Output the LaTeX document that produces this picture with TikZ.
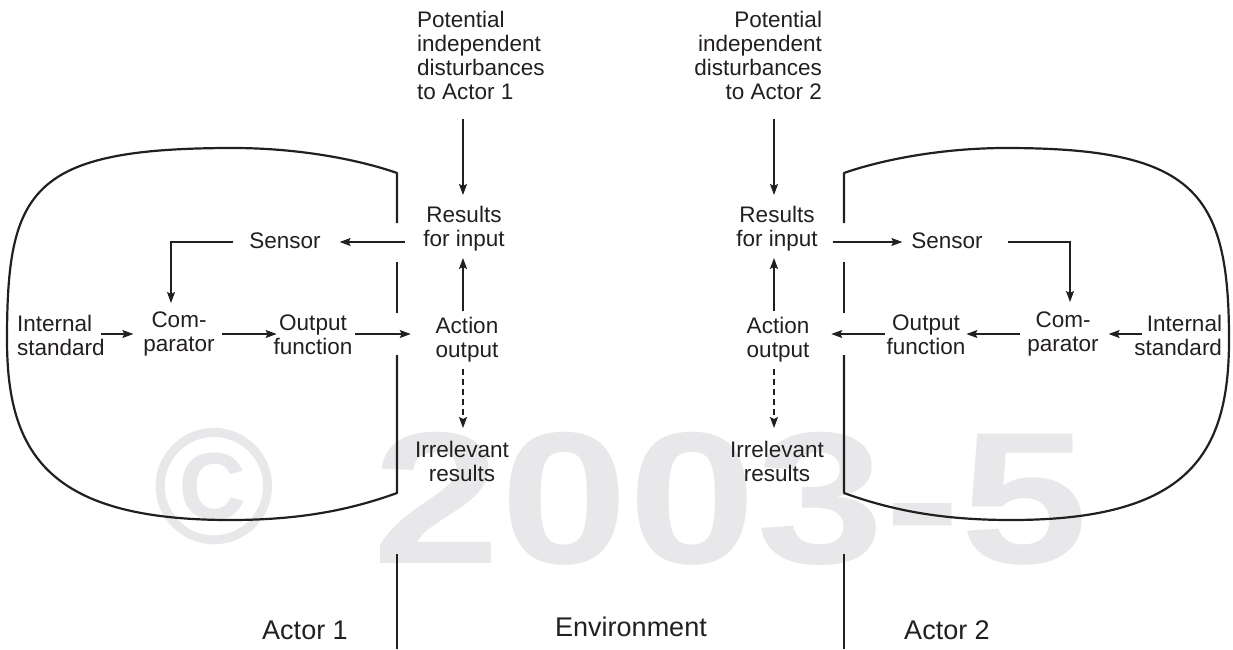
\documentclass[tikz,border=0pt]{standalone}
\usepackage{fontspec}
\setmainfont{Liberation Sans}
\usetikzlibrary{arrows.meta,calc}
\definecolor{ink}{RGB}{35,31,32}
\definecolor{wmgray}{RGB}{232,232,234}
\begin{document}
\begin{tikzpicture}[x=1pt,y=-1pt,
  lbl/.style={inner sep=0pt,outer sep=0pt,text=ink,font=\fontsize{22.5}{24}\selectfont},
  biglbl/.style={inner sep=0pt,outer sep=0pt,text=ink,font=\fontsize{27}{30}\selectfont},
  wmark/.style={inner sep=0pt,outer sep=0pt,text=wmgray},
  arr/.style={draw=ink,line width=1.1pt,-{Stealth[length=11pt,width=8pt,inset=2pt]}},
  dsh/.style={arr,dash pattern=on 6pt off 4pt},
  wall/.style={draw=ink,line width=2.2pt,line join=round}]
\useasboundingbox (0,0) rectangle (1233,649);
% watermark
\node[wmark,anchor=base,font=\fontsize{165}{165}\selectfont\bfseries] (wmc) at (214,543) {©};
\node[wmark,anchor=base west,xscale=1.225,font=\fontsize{188}{188}\selectfont\bfseries] (wmd) at (372,563) {2003-5};
% walls of actor 1
\draw[wall] (397,223) -- (397,173)
  .. controls (360,160) and (300,148) .. (233,148)
  .. controls (30,148) and (7,190) .. (7,340)
  .. controls (7,455) and (50,520) .. (230,520)
  .. controls (300,520) and (350,510) .. (397,493) -- (397,355);
\draw[wall] (397,262) -- (397,313);
\draw[wall] (397,554) -- (397,649);
% walls of actor 2
\draw[wall] (844,223) -- (844,173)
  .. controls (881,160) and (941,148) .. (1006,148)
  .. controls (1195,148) and (1229,192) .. (1229,340)
  .. controls (1229,455) and (1188,520) .. (1011,520)
  .. controls (941,520) and (891,510) .. (844,493) -- (844,355);
\draw[wall] (844,262) -- (844,313);
\draw[wall] (844,554) -- (844,649);
% helper coordinates
\coordinate (colL) at (463,0);
\coordinate (colR) at (774,0);
\coordinate (rowS) at (0,242);
\coordinate (rowO) at (0,334);
% actor 1 labels
\node[lbl,anchor=north west,align=left] (dist1) at (417,11) {Potential\\independent\\disturbances\\to Actor 1};
\node[lbl,anchor=north,align=center] (res1) at (464,206) {Results\\for input};
\node[lbl,anchor=north,align=center] (act1) at (467,317) {Action\\output};
\node[lbl,anchor=north,align=center] (irr1) at (462,441) {Irrelevant\\results};
\node[lbl,anchor=north] (sen1) at (285,233) {Sensor};
\node[lbl,anchor=north,align=center] (com1) at (179,312) {Com-\\parator};
\node[lbl,anchor=north west,align=left] (int1) at (17,315) {Internal\\standard};
\node[lbl,anchor=north,align=center] (out1) at (313,315) {Output\\function};
% actor 2 labels
\node[lbl,anchor=north east,align=right] (dist2) at (822,11) {Potential\\independent\\disturbances\\to Actor 2};
\node[lbl,anchor=north,align=center] (res2) at (777,206) {Results\\for input};
\node[lbl,anchor=north,align=center] (act2) at (778,317) {Action\\output};
\node[lbl,anchor=north,align=center] (irr2) at (777,441) {Irrelevant\\results};
\node[lbl,anchor=north] (sen2) at (947,233) {Sensor};
\node[lbl,anchor=north,align=center] (com2) at (1063,312) {Com-\\parator};
\node[lbl,anchor=north east,align=right] (int2) at (1222,315) {Internal\\standard};
\node[lbl,anchor=north,align=center] (out2) at (926,315) {Output\\function};
% bottom labels
\node[biglbl,anchor=base] (a1) at (305,639) {Actor 1};
\node[biglbl,anchor=base] (env) at (631,636) {Environment};
\node[biglbl,anchor=base] (a2) at (947,639) {Actor 2};
% connectors actor 1
\draw[arr] ($(dist1.south -| colL)+(0,19)$) -- ($(res1.north -| colL)+(0,-11)$);
\draw[arr] ($(act1.north -| colL)+(0,-6)$) -- ($(res1.south -| colL)+(0,7)$);
\draw[dsh] ($(act1.south -| colL)+(0,7)$) -- ($(irr1.north -| colL)+(0,-13)$);
\draw[arr] ($(res1.west |- rowS)+(-18,0)$) -- ($(sen1.east |- rowS)+(19,0)$);
\draw[arr] ($(sen1.west |- rowS)+(-16,0)$) -| ($(com1.north)+(-8,-9)$);
\draw[arr] ($(int1.east |- rowO)+(-3.5,0)$) -- ($(com1.west |- rowO)+(-10,0)$);
\draw[arr] ($(com1.east |- rowO)+(7,0)$) -- ($(out1.west |- rowO)+(3,0)$);
\draw[arr] ($(out1.east |- rowO)+(3,0)$) -- ($(act1.west |- rowO)+(-25,0)$);
% connectors actor 2
\draw[arr] ($(dist2.south -| colR)+(0,19)$) -- ($(res2.north -| colR)+(0,-11)$);
\draw[arr] ($(act2.north -| colR)+(0,-6)$) -- ($(res2.south -| colR)+(0,7)$);
\draw[dsh] ($(act2.south -| colR)+(0,7)$) -- ($(irr2.north -| colR)+(0,-13)$);
\draw[arr] ($(res2.east |- rowS)+(15,0)$) -- ($(sen2.west |- rowS)+(-9,0)$);
\draw[arr] ($(sen2.east |- rowS)+(25,0)$) -| ($(com2.north)+(7,-10)$);
\draw[arr] ($(int2.west |- rowO)+(7.5,0)$) -- ($(com2.east |- rowO)+(10,0)$);
\draw[arr] ($(com2.west |- rowO)+(-7.4,0)$) -- ($(out2.east |- rowO)+(1,0)$);
\draw[arr] ($(out2.west |- rowO)+(-2,0)$) -- ($(act2.east |- rowO)+(22,0)$);
\end{tikzpicture}
\end{document}
